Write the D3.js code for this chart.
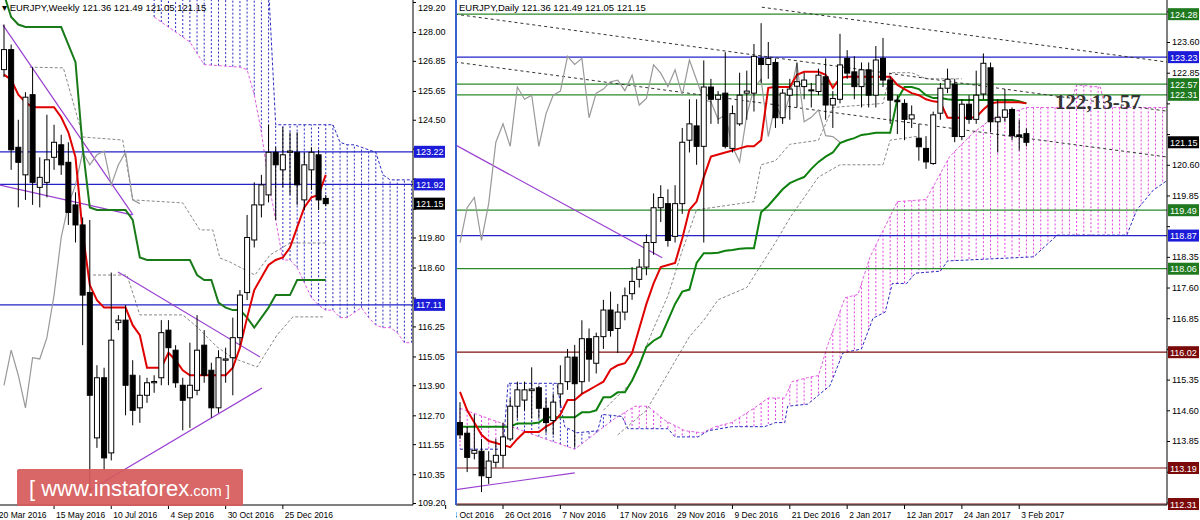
<!DOCTYPE html>
<html>
<head>
<meta charset="utf-8">
<script src="https://cdn.jsdelivr.net/npm/d3@7"></script>
<style>
  body { margin: 0; background: #fff; }
  svg { display: block; font-family: "Liberation Sans", Arial, sans-serif; }
</style>
</head>
<body>
<div id="chart"></div>
<script>
// ---------- weekly data (index 0 = week of 27 Mar 2016) ----------
const wOpen  = [126.5,127.3,123.4,122.3,125.5,121.8,122.0,123.0,123.5,122.8,121.1,120.3,117.6,111.8,114.2,111.2,116.4,116.5,114.3,113.0,113.5,114.0,114.2,116.1,115.3,113.9,113.4,113.7,115.5,114.5,113.0,114.9,115.0,115.8,117.6,119.7,121.1,121.5,123.2,122.5,123.2,123.2,121.3,122.5,123.1,121.36]
const wHigh  = [128.3,127.5,124.5,125.6,126.6,123.0,124.7,124.3,123.9,123.6,121.6,120.6,120.5,114.7,114.6,118.4,116.7,117.1,114.9,114.3,114.2,114.3,116.5,116.5,115.5,114.2,115.6,116.7,116.1,114.8,115.3,115.4,116.6,117.7,120.7,122.0,122.3,124.3,123.4,124.2,124.0,124.0,123.2,123.4,123.3,121.49]
const wLow   = [126.2,122.5,121.0,121.3,121.1,121.0,121.4,122.5,122.3,120.3,119.6,115.5,109.6,111.4,110.5,110.9,116.1,112.7,112.3,112.4,113.2,113.6,113.9,113.9,113.8,112.1,112.2,113.5,114.0,112.6,112.8,114.0,113.5,115.5,117.3,119.4,120.6,121.2,120.5,121.8,121.5,121.1,120.9,121.7,120.9,121.05]
const wClose = [127.3,123.3,122.8,125.4,122.0,122.2,122.9,123.6,122.7,120.8,120.3,117.5,113.5,114.2,111.0,115.7,116.5,113.9,112.9,113.5,114.0,114.05,116.0,115.4,114.0,113.3,113.9,115.3,114.3,113.0,115.0,114.95,115.8,117.5,119.8,121.1,121.9,123.2,122.7,123.1,123.25,121.9,122.7,123.2,121.3,121.15]
const wTenkan = [126.3,126.1,125.5,125.2,125.0,125.0,125.0,125.0,124.6,124.0,123.0,120.0,117.9,117.3,117.0,117.0,117.0,117.0,116.3,115.9,114.6,114.6,114.6,115.2,114.9,114.5,114.3,114.3,114.3,114.3,114.3,114.3,114.6,115.4,116.6,117.7,118.2,118.7,118.9,119.0,119.4,120.2,121.0,121.4,121.5,122.3]
const wKijun = [129.5,128.6,128.3,128.2,128.2,128.2,128.2,128.2,128.2,127.5,126.8,123.4,121.0,120.9,120.9,120.9,120.9,120.9,120.5,119.0,118.9,118.9,118.9,118.9,118.9,118.9,118.9,118.3,118.1,118.1,117.2,117.0,116.9,116.9,116.6,116.2,116.6,117.0,117.5,117.5,117.5,118.1,118.1,118.1,118.1,118.1]
// cloud points [week index, price]
const wSpanA = [[21,128.6],[24,128.0],[26,127.6],[28,126.7],[33,126.6],[34,126.5],[35,125.5],[36,124.0],[37,122.0],[38,120.5],[39,118.9],[40,118.9],[41,118.6],[42,118.0],[43,117.4],[44,117.1],[45,116.9],[46,116.9],[47,116.6],[48,116.6],[49,116.8],[50,117.0],[51,116.6],[52,116.3],[53,116.2],[54,116.2],[55,116.0],[56,115.6],[57,115.6]]
const wSpanB = [[21,129.8],[37,129.8],[38,124.3],[46,124.3],[47,123.6],[48,123.5],[49,123.5],[50,123.4],[51,123.3],[52,123.2],[53,122.3],[54,122.1],[57,122.1]]
const wDashUp = [[3.6,126.6],[8.3,126.57],[11.05,123.81],[16.6,123.69],[18.0,121.3],[25.0,121.18],[27.4,120.1],[29.2,120.1],[30.2,118.98],[31.6,118.82],[35.1,118.3],[37.2,119.1],[40,119.58],[45.2,119.58]]
const wDashLo = [[12.45,118.3],[17.2,118.3],[19.0,116.71],[25.0,116.71],[27,116.23],[29.8,115.43],[32.0,114.99],[35.4,114.63],[38.2,115.91],[40.4,116.63],[44.6,116.63]]
const wTrend = [[[-0.14,128.28],[18.04,120.7]],[[-0.56,121.89],[17.9,120.7]],[[15.94,118.42],[35.8,115.03]],[[12.03,109.72],[36.08,113.79]]]
const wTicks = [129.20,128.00,126.85,125.65,124.50,123.35,122.15,120.95,119.80,118.60,117.40,116.25,115.05,113.90,112.70,111.55,110.35,109.20]
const wDates = [[-1,"20 Mar 2016"],[7,"15 May 2016"],[15,"10 Jul 2016"],[23,"4 Sep 2016"],[31,"30 Oct 2016"],[39,"25 Dec 2016"]]
const wLevels = [[123.22,"blue"],[121.92,"blue"],[117.11,"blue"]]

// ---------- daily data (index 0 = 18 Oct 2016) ----------
const dOpen  = [114.3,114.04,113.55,113.6,112.96,113.33,113.5,113.9,114.7,114.85,115.08,115.15,114.65,114.35,115.0,115.3,115.9,115.3,116.35,115.75,116.4,117.05,116.6,117.0,117.45,117.8,118.1,118.7,119.55,119.65,118.85,119.65,121.2,121.55,121.05,122.5,122.2,122.35,121.0,121.6,122.35,122.35,123.2,123.05,123.1,121.75,122.3,122.52,122.51,122.43,122.39,122.75,122.06,122.2,123.2,122.87,122.51,122.92,122.3,123.2,122.67,122.18,122.1,121.72,121.25,121.0,120.63,121.86,122.47,122.57,121.29,122.08,121.71,122.33,122.97,121.65,121.76,121.95,121.33,121.36]
const dHigh  = [114.8,114.2,114.5,113.9,113.6,113.9,114.3,114.9,115.3,115.3,115.65,115.2,114.9,115.0,115.7,116.1,116.2,116.8,116.6,116.5,117.3,117.5,117.2,117.6,118.1,118.3,118.9,119.9,120.1,120.0,120.1,121.5,122.2,122.2,123.15,122.7,122.4,123.35,122.05,122.85,122.9,123.55,124.06,123.6,123.2,122.45,122.7,123.1,122.85,122.6,122.95,123.2,122.4,123.8,123.4,123.25,123.1,123.1,123.5,123.7,122.75,122.3,122.2,122.05,121.6,121.3,121.9,122.6,122.95,122.7,122.2,122.3,122.9,123.32,123.1,122.2,122.45,122.0,121.7,121.49]
const dLow   = [113.9,113.09,113.4,112.6,112.8,113.2,113.2,113.85,114.4,114.6,114.4,114.4,114.05,114.0,114.7,115.1,113.7,115.0,115.3,115.5,116.1,116.4,116.0,116.8,117.3,117.6,117.9,118.4,119.2,118.6,118.7,119.4,120.9,120.6,118.7,121.6,121.6,121.0,120.9,121.55,121.7,121.9,122.6,122.7,121.5,121.6,121.7,122.0,122.2,122.0,122.3,121.7,121.5,122.1,122.7,122.2,122.0,122.0,122.0,122.5,121.6,121.35,121.2,121.5,120.7,120.5,120.6,121.7,122.35,121.15,121.2,121.6,121.6,122.2,121.4,120.9,121.65,121.2,120.95,121.05]
const dClose = [114.0,113.45,113.62,113.0,113.36,113.5,113.95,114.7,115.1,115.1,115.12,114.65,114.3,114.8,115.25,115.9,115.25,116.35,115.85,116.4,117.05,116.55,117.0,117.4,117.75,118.1,118.7,119.55,119.8,118.75,119.65,121.15,121.6,121.05,122.5,122.2,122.3,121.05,121.85,122.3,122.4,123.25,123.05,123.2,121.75,122.35,122.45,122.63,122.67,122.41,122.79,122.06,122.22,123.04,122.84,122.51,122.92,122.3,123.16,122.67,122.18,122.14,121.71,121.82,121.04,120.67,121.82,122.47,122.69,121.29,122.08,121.71,122.3,123.08,121.65,121.76,121.94,121.31,121.29,121.15]
const dTenkan = [115.05,114.6,114.3,114.0,113.85,113.8,113.75,113.7,113.9,114.07,114.07,114.07,114.2,114.3,114.5,114.85,114.85,115.0,115.1,115.2,115.3,115.6,115.7,115.75,116.0,116.6,117.2,117.7,118.1,118.15,118.2,118.8,119.5,119.7,120.3,120.8,120.85,120.9,120.95,121.0,121.05,121.05,121.2,122.48,122.5,122.5,122.5,122.8,122.87,122.87,122.87,122.8,122.48,122.72,122.75,122.75,122.75,122.75,122.75,122.75,122.75,122.55,122.45,122.35,122.3,122.2,122.15,122.13,121.75,121.75,121.75,121.75,121.76,121.95,122.1,122.13,122.13,122.13,122.13,122.1]
const dKijun = [114.2,114.2,114.2,114.2,114.2,114.2,114.2,114.2,114.28,114.28,114.28,114.3,114.43,114.43,114.43,114.43,114.43,114.55,114.55,114.6,114.92,114.92,115.04,115.04,115.33,115.7,116.15,116.3,116.4,116.8,117.2,117.5,117.55,118.2,118.44,118.44,118.45,118.5,118.52,118.55,118.56,118.56,119.44,119.6,119.8,120.0,120.15,120.23,120.3,120.5,120.67,120.8,120.9,121.13,121.2,121.25,121.33,121.35,121.38,121.38,121.38,122.2,122.5,122.5,122.45,122.3,122.23,122.23,122.2,122.18,122.18,122.18,122.18,122.18,122.18,122.18,122.18,122.18,122.15,122.1]
const dSpanA = [[0,114.65],[11.9,113.9],[16,113.65],[21.6,114.4],[24.4,114.7],[26.2,114.7],[28.6,114.35],[31.4,114.1],[33.8,114.05],[35.6,114.2],[37.9,114.3],[41,114.65],[43,114.9],[45.3,114.9],[46.3,115.3],[48.5,115.4],[50,115.45],[51.3,116.2],[53.7,117.35],[55.5,117.43],[57.2,118.35],[61,119.7],[65,119.75],[68.3,120.8],[71.5,121.37],[74,121.7],[79,122.0],[85,122.0],[86,122.55],[89.3,122.5],[90,122.0],[98.5,122.0]]
const dSpanB = [[0,113.65],[6,113.65],[6.7,115.26],[13.5,115.26],[14.6,114.2],[16.3,114.05],[19.2,114.1],[19.8,114.5],[22.6,114.45],[23.4,114.15],[29,114.15],[30,113.95],[33.2,113.95],[34.6,114.1],[37.9,114.2],[42.5,114.2],[44,114.3],[45.3,114.3],[45.7,114.7],[48.5,114.75],[50.2,115.0],[51.6,115.2],[53.4,116.0],[56,116.1],[57.6,116.85],[59.3,117.0],[60.3,117.7],[62.3,117.7],[63.5,117.95],[67,118.0],[68,118.25],[80,118.35],[83.3,118.88],[93,118.88],[94.4,119.5],[96.7,119.98],[98.5,120.2]]
const dDashUp = [[20,114.6],[24,115.3],[27,116.6],[29,117.4],[31,118.5],[33,119.5],[41,119.7],[42,120.6],[44,120.7],[46,121.1],[50,121.2],[52,122.0],[59,122.1],[60,122.85],[63,122.85],[65,122.7],[70,122.7]]
const dDashLo = [[22,114.0],[26,114.6],[30,115.8],[32,116.4],[34,116.8],[36,117.3],[40,117.6],[44,118.7],[46,119.3],[50,120.3],[53,120.6],[59,120.6],[60,121.2],[64,121.3]]
const dTrendDash = [[[-0.7,124.28],[98.6,121.91]],[[42.1,124.45],[98.6,123.11]],[[-0.7,123.11],[98.6,120.79]]]
const dTrendPurple = [[[-0.7,121.09],[28.2,118.33]],[[-0.7,112.66],[16.0,113.07]]]
const dTicks = [124.35,123.60,122.85,122.10,121.35,120.60,119.85,119.10,118.35,117.60,116.85,116.10,115.35,114.60,113.85,113.10,112.35]
const dDates = [[-2,"14 Oct 2016"],[6,"26 Oct 2016"],[14,"7 Nov 2016"],[22,"17 Nov 2016"],[30,"29 Nov 2016"],[38,"9 Dec 2016"],[46,"21 Dec 2016"],[54,"2 Jan 2017"],[62,"12 Jan 2017"],[70,"24 Jan 2017"],[78,"3 Feb 2017"]]
const dLevels = [[124.28,"green"],[123.23,"blue"],[122.57,"green"],[122.31,"green"],[119.49,"green"],[118.87,"blue"],[118.06,"green"],[116.02,"red"],[113.19,"red"],[112.31,"red"]]

const lastPrice = 121.15
const colors = { blue: "#2323c8", green: "#2b8a2b", red: "#7a1212" }
const boxColors = { blue: "#1c1cd8", green: "#1f7a1f", red: "#7a0a0a" }

const svg = d3.select("#chart").append("svg").attr("width", 1200).attr("height", 520)

function drawPanel(p) {
  const x = d3.scaleLinear().domain(p.xDomain).range(p.xRange)
  const y = d3.scaleLinear().domain(p.yDomain).range(p.yRange)
  const clipId = "clip" + p.name
  svg.append("clipPath").attr("id", clipId).append("rect")
    .attr("x", p.left).attr("y", 0).attr("width", p.right - p.left).attr("height", p.bottom)
  const g = svg.append("g").attr("clip-path", `url(#${clipId})`)
  const line = d3.line().x(d => x(d[0])).y(d => y(d[1]))
  const series = arr => arr.map((v, i) => [i, v])

  // cloud hatch, one dotted stroke per bar
  const interp = pts => v => {
    for (let k = 0; k < pts.length - 1; k++) {
      if (v >= pts[k][0] && v <= pts[k + 1][0]) {
        const t = (v - pts[k][0]) / (pts[k + 1][0] - pts[k][0] || 1)
        return pts[k][1] + t * (pts[k + 1][1] - pts[k][1])
      }
    }
    return null
  }
  const fa = interp(p.spanA), fb = interp(p.spanB)
  const start = Math.max(p.spanA[0][0], p.spanB[0][0])
  const end = Math.min(p.spanA[p.spanA.length - 1][0], p.spanB[p.spanB.length - 1][0])
  for (let v = Math.ceil(start); v <= end; v += 1) {
    const a = fa(v), b = fb(v)
    if (a == null || b == null) continue
    g.append("line").attr("x1", x(v)).attr("x2", x(v)).attr("y1", y(a)).attr("y2", y(b))
      .attr("stroke", a > b ? "#e040e0" : "#2a2ac0").attr("stroke-width", 1)
      .attr("stroke-dasharray", "2,2")
  }
  g.append("path").attr("d", line(p.spanA)).attr("fill", "none")
    .attr("stroke", "#e060e0").attr("stroke-dasharray", "3,2")
  g.append("path").attr("d", line(p.spanB)).attr("fill", "none")
    .attr("stroke", "#2a2ac0").attr("stroke-dasharray", "3,2")

  // grey dashed levels
  ;[p.dashUp, p.dashLo].forEach(d => g.append("path").attr("d", line(d)).attr("fill", "none")
    .attr("stroke", "#888").attr("stroke-dasharray", "3,2"))

  // horizontal levels
  p.levels.forEach(l => g.append("line").attr("x1", p.left).attr("x2", p.right)
    .attr("y1", y(l[0])).attr("y2", y(l[0])).attr("stroke", colors[l[1]]).attr("stroke-width", 1.2))

  // trendlines
  p.trendDash.forEach(t => g.append("path").attr("d", line(t)).attr("stroke", "#333")
    .attr("stroke-dasharray", "3,3").attr("fill", "none"))
  p.trendPurple.forEach(t => g.append("path").attr("d", line(t)).attr("stroke", "#9a40d0")
    .attr("stroke-width", 1.2).attr("fill", "none"))

  // chikou = close shifted back 26 bars
  const chikou = p.close.slice(26).map((v, i) => [i, v])
  g.append("path").attr("d", line(chikou)).attr("fill", "none").attr("stroke", "#999").attr("stroke-width", 1.2)

  // kijun / tenkan
  g.append("path").attr("d", line(series(p.kijun))).attr("fill", "none")
    .attr("stroke", p.kijunColor).attr("stroke-width", 2)
  g.append("path").attr("d", line(series(p.tenkan))).attr("fill", "none")
    .attr("stroke", "#e00000").attr("stroke-width", 2)

  // candles
  p.open.forEach((o, i) => {
    const c = p.close[i], cx = x(i)
    g.append("line").attr("x1", cx).attr("x2", cx).attr("y1", y(p.high[i])).attr("y2", y(p.low[i]))
      .attr("stroke", "#000")
    const top = y(Math.max(o, c)), bot = y(Math.min(o, c))
    g.append("rect").attr("x", cx - 2.5).attr("y", top).attr("width", 5).attr("height", Math.max(1, bot - top))
      .attr("fill", c >= o ? "#fff" : "#000").attr("stroke", "#000")
  })

  // axes frame
  svg.append("line").attr("x1", p.right).attr("x2", p.right).attr("y1", 0).attr("y2", p.bottom).attr("stroke", "#000")
  svg.append("line").attr("x1", p.left).attr("x2", p.right).attr("y1", p.bottom).attr("y2", p.bottom).attr("stroke", "#000")

  // price ticks; labels under a level box are left out (the box covers them)
  const boxes = p.levels.map(l => [l[0], boxColors[l[1]]]).concat([[lastPrice, "#000"]])
  const free = p.ticks.filter(t => boxes.every(b => Math.abs(y(t) - y(b[0])) > 11))
  const yAxis = d3.axisRight(y).tickValues(p.ticks).tickSize(3).tickFormat(d => free.includes(d) ? d.toFixed(2) : "")
  svg.append("g").attr("transform", `translate(${p.right},0)`).call(yAxis)
    .call(a => a.select(".domain").remove())
    .call(a => a.selectAll("text").attr("font-size", 9).attr("x", 5)
      .attr("font-family", "Liberation Sans, Arial, sans-serif")
      .attr("dy", d => y(d) < 8 ? "0.9em" : "0.32em"))

  p.dates.forEach(d => {
    const xx = x(d[0])
    svg.append("line").attr("x1", xx).attr("x2", xx).attr("y1", p.bottom).attr("y2", p.bottom + 4).attr("stroke", "#000")
  })
  const dClipId = "dclip" + p.name
  svg.append("clipPath").attr("id", dClipId).append("rect")
    .attr("x", p.left).attr("y", p.bottom).attr("width", p.right - p.left).attr("height", 20)
  const dt = svg.append("g").attr("clip-path", `url(#${dClipId})`)
  p.dates.forEach(d => dt.append("text").attr("x", x(d[0]) + 2).attr("y", p.bottom + 13)
    .attr("font-size", 8.5).text(d[1]))

  // level boxes
  boxes.forEach(b => {
    const yy = y(b[0])
    svg.append("rect").attr("x", p.right + 1).attr("y", yy - 6).attr("width", 31).attr("height", 12).attr("fill", b[1])
    svg.append("text").attr("x", p.right + 3).attr("y", yy + 3.5).attr("font-size", 9)
      .attr("fill", "#fff").text(b[0].toFixed(2))
  })
  return { x, y }
}

drawPanel({
  name: "w", left: 0, right: 413, bottom: 505,
  xDomain: [0, 45], xRange: [4, 325.75], yDomain: [109.20, 129.20], yRange: [503, 2],
  open: wOpen, high: wHigh, low: wLow, close: wClose, tenkan: wTenkan, kijun: wKijun,
  kijunColor: "#1a7a1a", spanA: wSpanA, spanB: wSpanB, dashUp: wDashUp, dashLo: wDashLo,
  trendDash: [], trendPurple: wTrend, levels: wLevels, ticks: wTicks, dates: wDates
})

const dp = drawPanel({
  name: "d", left: 456, right: 1167, bottom: 505,
  xDomain: [0, 79], xRange: [460, 1026.4], yDomain: [113.85, 123.60], yRange: [441, 42],
  open: dOpen, high: dHigh, low: dLow, close: dClose, tenkan: dTenkan, kijun: dKijun,
  kijunColor: "#0e800e", spanA: dSpanA, spanB: dSpanB, dashUp: dDashUp, dashLo: dDashLo,
  trendDash: dTrendDash, trendPurple: dTrendPurple, levels: dLevels, ticks: dTicks, dates: dDates
})
svg.append("line").attr("x1", 456).attr("x2", 456).attr("y1", 0).attr("y2", 505).attr("stroke", "#3a60d0").attr("stroke-width", 2)

// headers
svg.append("text").attr("x", 2).attr("y", 11).attr("font-size", 9.5).text("▾ EURJPY,Weekly  121.36 121.49 121.05 121.15")
svg.append("text").attr("x", 459).attr("y", 11).attr("font-size", 9.5).text("EURJPY,Daily  121.36 121.49 121.05 121.15")

// annotation
svg.append("text").attr("x", 1055).attr("y", dp.y(122.10) + 6).attr("font-family", "Liberation Serif, serif")
  .attr("font-weight", "bold").attr("font-size", 21).attr("fill", "#333").text("122,13-57")

// watermark
svg.append("rect").attr("x", 17).attr("y", 469).attr("width", 226).attr("height", 37).attr("rx", 2)
  .attr("fill", "#d65a5a").attr("opacity", 0.92)
const wm = svg.append("text").attr("x", 29).attr("y", 496).attr("fill", "#fff")
wm.append("tspan").attr("font-size", 22).text("[  www.instaforex")
wm.append("tspan").attr("font-size", 15).text(".com ]")
</script>
</body>
</html>
